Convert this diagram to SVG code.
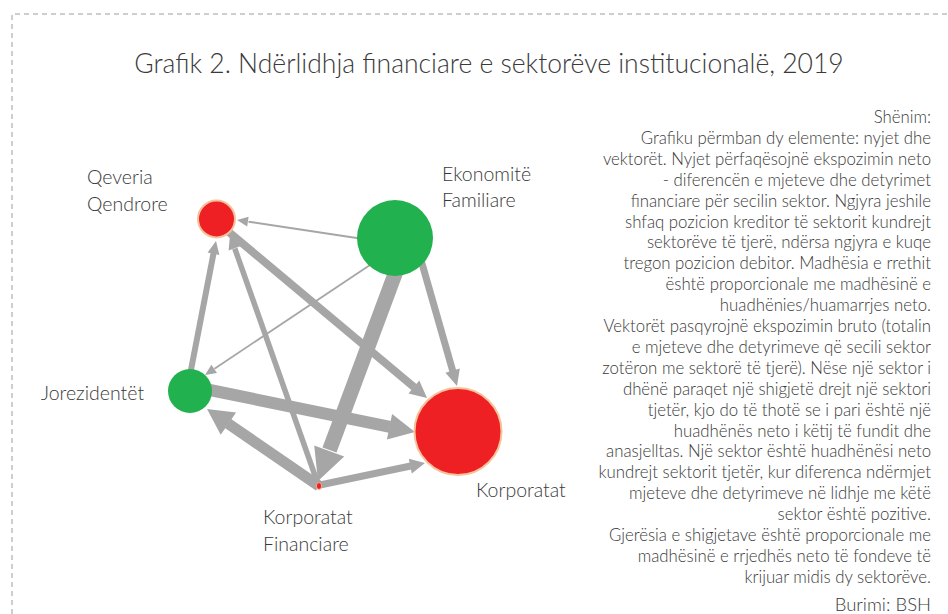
<svg xmlns="http://www.w3.org/2000/svg" width="948" height="614" viewBox="0 0 948 614">
<style>
.t{font-family:"Lato","Liberation Sans",sans-serif;font-weight:300;fill:#3a3a3a}
.title{font-size:26.5px}
.lbl{font-size:19.5px}
.note{font-size:16.8px;text-anchor:end}
.src{font-size:18.5px;text-anchor:end}
.sh{stroke:#a6a6a6;fill:none}
.hd{fill:#a6a6a6}
.red{fill:#ee2024;stroke:#f5c29c;stroke-width:2}
.grn{fill:#22b14f}
</style>
<rect width="948" height="614" fill="#fff"/>
<path d="M12 614 V14 H948" fill="none" stroke="#9c9c9c" stroke-width="1" stroke-dasharray="5 4"/>
<text class="t title" x="489" y="73" text-anchor="middle">Grafik 2. Ndërlidhja financiare e sektorëve institucionalë, 2019</text>
<g id="connectors">
<g id="e-ef-qq"><line class="sh" stroke-width="2" x1="360" y1="238.5" x2="248.5" y2="221.7"/><polygon class="hd" points="237,220 248.6,216.7 247.2,226.6"/></g>
<g id="e-ef-jr"><line class="sh" stroke-width="1.8" x1="370" y1="265" x2="214.5" y2="368.7"/><polygon class="hd" points="205,375 211.4,364.7 217,373.1"/></g>
<g id="e-ef-k"><line class="sh" stroke-width="7" x1="421" y1="260" x2="452.9" y2="371.5"/><polygon class="hd" points="457,386 445.4,372.7 459.8,368.5"/></g>
<g id="e-ef-kf"><line class="sh" stroke-width="15" x1="398" y1="266" x2="329.5" y2="450"/><polygon class="hd" points="318,481 314.2,445.4 344.2,456.6"/></g>
<g id="e-jr-qq"><line class="sh" stroke-width="6" x1="190" y1="375" x2="213.6" y2="253"/><polygon class="hd" points="216,241 219.4,254.9 207.6,252.6"/></g>
<g id="e-jr-k"><line class="sh" stroke-width="12" x1="200" y1="388" x2="390" y2="426.9"/><polygon class="hd" points="415,432 386.9,439.5 392.1,414.1"/></g>
<g id="e-kf-jr"><line class="sh" stroke-width="11" x1="319" y1="486" x2="228" y2="423.5"/><polygon class="hd" points="207,409 236.1,412.6 220.7,434.8"/></g>
<g id="e-kf-k"><line class="sh" stroke-width="7" x1="320" y1="485" x2="410.6" y2="466"/><polygon class="hd" points="425,463 411.8,473.4 408.8,458.8"/></g>
<g id="e-kf-qq"><line class="sh" stroke-width="5.5" x1="318" y1="484" x2="234.8" y2="248.5"/><polygon class="hd" points="230,235 240.8,246 228.6,250.4"/></g>
<g id="e-qq-k"><line class="sh" stroke-width="8" x1="224" y1="228" x2="414.2" y2="387.3"/><polygon class="hd" points="427,398 408.5,393.6 419.3,380.6"/></g>
</g>
<g id="node-qq"><circle class="red" cx="216.5" cy="219" r="18.5"/><text class="t lbl" x="87" y="184">Qeveria</text><text class="t lbl" x="87" y="211">Qendrore</text></g>
<g id="node-ef"><circle class="grn" cx="395" cy="238" r="38"/><text class="t lbl" x="442" y="181">Ekonomitë</text><text class="t lbl" x="442" y="207">Familiare</text></g>
<g id="node-jr"><circle class="grn" cx="190" cy="391" r="22"/><text class="t lbl" x="41" y="400">Jorezidentët</text></g>
<g id="node-k"><circle class="red" cx="458" cy="431.5" r="43.5"/><text class="t lbl" x="476" y="497">Korporatat</text></g>
<g id="node-kf"><ellipse cx="319" cy="486" rx="2.6" ry="3.4" fill="#ee2024" stroke="#f5c29c" stroke-width="0.8"/><text class="t lbl" x="263" y="524">Korporatat</text><text class="t lbl" x="263" y="551">Financiare</text></g>
<g id="note">
<text class="t note" x="931" y="123">Shënim:</text>
<text class="t note" x="931" y="143.9">Grafiku përmban dy elemente: nyjet dhe</text>
<text class="t note" x="931" y="164.8">vektorët. Nyjet përfaqësojnë ekspozimin neto</text>
<text class="t note" x="931" y="185.7">- diferencën e mjeteve dhe detyrimet</text>
<text class="t note" x="931" y="206.6">financiare për secilin sektor. Ngjyra jeshile</text>
<text class="t note" x="931" y="227.5">shfaq pozicion kreditor të sektorit kundrejt</text>
<text class="t note" x="931" y="248.4">sektorëve të tjerë, ndërsa ngjyra e kuqe</text>
<text class="t note" x="931" y="269.3">tregon pozicion debitor. Madhësia e rrethit</text>
<text class="t note" x="931" y="290.2">është proporcionale me madhësinë e</text>
<text class="t note" x="931" y="311.1">huadhënies/huamarrjes neto.</text>
<text class="t note" x="931" y="332">Vektorët pasqyrojnë ekspozimin bruto (totalin</text>
<text class="t note" x="931" y="352.9">e mjeteve dhe detyrimeve që secili sektor</text>
<text class="t note" x="931" y="373.8">zotëron me sektorë të tjerë). Nëse një sektor i</text>
<text class="t note" x="931" y="394.7">dhënë paraqet një shigjetë drejt një sektori</text>
<text class="t note" x="931" y="415.6">tjetër, kjo do të thotë se i pari është një</text>
<text class="t note" x="931" y="436.5">huadhënës neto i këtij të fundit dhe</text>
<text class="t note" x="931" y="457.4">anasjelltas. Një sektor është huadhënësi neto</text>
<text class="t note" x="931" y="478.3">kundrejt sektorit tjetër, kur diferenca ndërmjet</text>
<text class="t note" x="931" y="499.2">mjeteve dhe detyrimeve në lidhje me këtë</text>
<text class="t note" x="931" y="520.1">sektor është pozitive.</text>
<text class="t note" x="931" y="541">Gjerësia e shigjetave është proporcionale me</text>
<text class="t note" x="931" y="561.9">madhësinë e rrjedhës neto të fondeve të</text>
<text class="t note" x="931" y="582.8">krijuar midis dy sektorëve.</text>
<text class="t src" x="931" y="611">Burimi: BSH</text>
</g>
</svg>
